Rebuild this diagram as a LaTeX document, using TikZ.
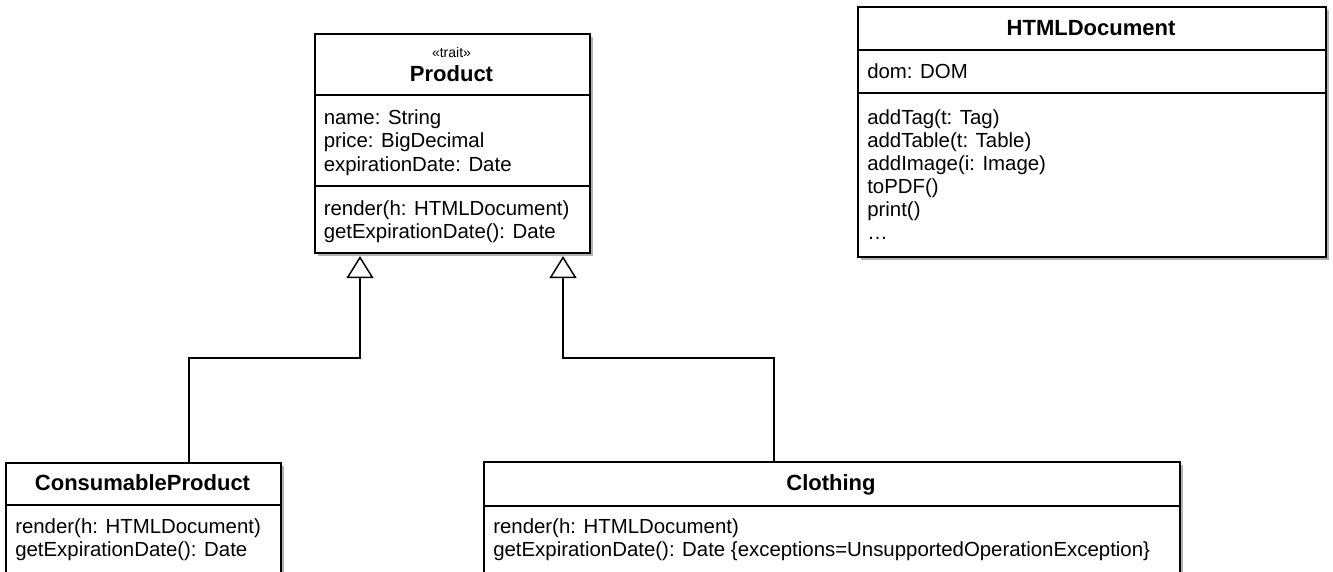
\documentclass[tikz,border=0pt]{standalone}
\usepackage{fontspec}
\setmainfont{Liberation Sans}
\usetikzlibrary{arrows.meta,shadows}
\begin{document}
\begin{tikzpicture}[x=0.75pt,y=-0.75pt,
  cls/.style={draw=black, line width=1.3pt, fill=white, rectangle, inner sep=0pt, anchor=north west,
    drop shadow={shadow xshift=2.2pt, shadow yshift=-2.2pt, opacity=0.3, fill=black}},
  txt/.style={anchor=base west, inner sep=0pt, font=\fontsize{15.3pt}{17.4pt}\selectfont},
  ttl/.style={anchor=base, inner sep=0pt, font=\fontsize{16.5pt}{19pt}\selectfont\bfseries},
  ster/.style={anchor=base, inner sep=0pt, font=\fontsize{10.5pt}{12pt}\selectfont},
  divline/.style={line width=1.3pt},
  gen/.style={draw=black, line width=1.1pt, shorten >=1.8pt, -{Triangle[length=16.5pt, width=20.3pt, fill=white]}}]
\useasboundingbox (0,0) rectangle (1333,571);
\clip (0,0) rectangle (1333,571);

% Product
\node[cls, minimum width={275*0.75pt}, minimum height={219*0.75pt}] (product) at (314,33) {};
\draw[divline] (product.west |- 0,95) -- (product.east |- 0,95);
\draw[divline] (product.west |- 0,186) -- (product.east |- 0,186);
\node[ster] (ptrait) at (451.5,57) {«trait»};
\node[ttl] (ptitle) at (451.5,81) {Product};
\node[txt] (pa1) at (323.5,124) {name: String};
\node[txt] (pa2) at (323.5,147.5) {price: BigDecimal};
\node[txt] (pa3) at (323.5,171) {expirationDate: Date};
\node[txt] (pm1) at (323.5,215.5) {render(h: HTMLDocument)};
\node[txt] (pm2) at (323.5,238.5) {getExpirationDate(): Date};

% HTMLDocument
\node[cls, minimum width={468*0.75pt}, minimum height={250*0.75pt}] (html) at (857,6) {};
\draw[divline] (html.west |- 0,50) -- (html.east |- 0,50);
\draw[divline] (html.west |- 0,93) -- (html.east |- 0,93);
\node[ttl] (htitle) at (1091,35) {HTMLDocument};
\node[txt] (ha1) at (867,78) {dom: DOM};
\node[txt] (hm1) at (867,124) {addTag(t: Tag)};
\node[txt] (hm2) at (867,147) {addTable(t: Table)};
\node[txt] (hm3) at (867,170) {addImage(i: Image)};
\node[txt] (hm4) at (867,193) {toPDF()};
\node[txt] (hm5) at (867,216) {print()};
\node[txt] (hm6) at (867,239) {…};

% ConsumableProduct
\node[cls, minimum width={275*0.75pt}, minimum height={150*0.75pt}] (cons) at (5,462) {};
\draw[divline] (cons.west |- 0,505) -- (cons.east |- 0,505);
\node[ttl] (ctitle) at (142.5,490) {ConsumableProduct};
\node[txt] (cm1) at (15,533) {render(h: HTMLDocument)};
\node[txt] (cm2) at (15,556) {getExpirationDate(): Date};

% Clothing
\node[cls, minimum width={696*0.75pt}, minimum height={150*0.75pt}] (cloth) at (483,461) {};
\draw[divline] (cloth.west |- 0,506) -- (cloth.east |- 0,506);
\node[ttl] (cltitle) at (831,490) {Clothing};
\node[txt] (clm1) at (493,533) {render(h: HTMLDocument)};
\node[txt] (clm2) at (493,556) {getExpirationDate(): Date \{exceptions=UnsupportedOperationException\}};

% Generalizations
\draw[gen] (cons.north -| 189,0) -- (189,358) -- (360,358) -- (product.south -| 360,0);
\draw[gen] (cloth.north -| 774,0) -- (774,358) -- (563,358) -- (product.south -| 563,0);
\end{tikzpicture}
\end{document}
